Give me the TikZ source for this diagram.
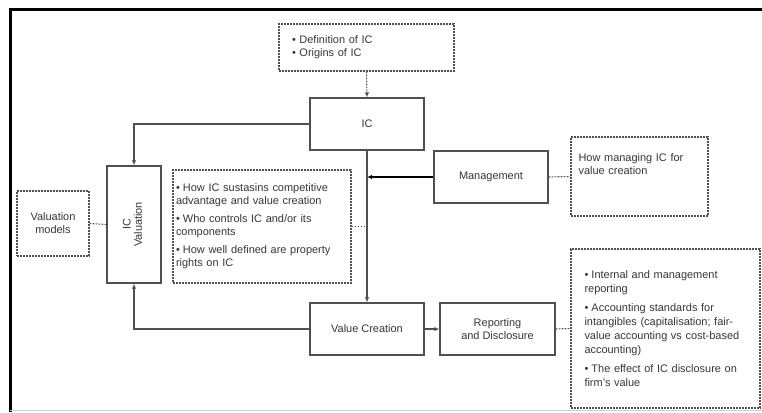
\documentclass[tikz,border=0pt]{standalone}
\usepackage{fontspec}
\usepackage{graphicx}
\setmainfont{Liberation Sans}
\usetikzlibrary{arrows.meta,calc}
\definecolor{ln}{RGB}{80,80,80}
\definecolor{tx}{RGB}{55,55,55}
\newcommand\bitem[1]{\noindent\hangindent=7bp\hangafter=1\makebox[7bp][l]{\textbullet}#1\par}
\begin{document}
\begin{tikzpicture}[x=1bp,y=-1bp,
  font=\fontsize{11}{13}\selectfont, text=tx,
  box/.style={draw=ln, line width=1.4bp, fill=white, inner sep=0pt},
  note/.style={draw=ln, line width=1.3bp, dash pattern=on 1.6bp off 1.4bp, inner sep=0pt},
  conn/.style={draw=ln, line width=1.1bp, -{Latex[length=5bp,width=4.5bp]}},
  dconn/.style={draw=ln, line width=1.1bp, dash pattern=on 1.6bp off 1.4bp},
  txt/.style={align=left, inner sep=0pt}]
\fill[white] (0,0) rectangle (762,412);
\useasboundingbox (0,0) rectangle (762,412);
\draw[black, line width=3bp] (10,412) -- (10,9) -- (762,9);
\draw[gray!35, line width=1bp] (10,410) -- (762,410);

% main boxes
\node[box, minimum width=114bp, minimum height=52bp] (ic) at (367,124) {IC};
\node[box, minimum width=114bp, minimum height=52bp] (mgmt) at (491,177) {Management};
\node[box, minimum width=114bp, minimum height=52bp] (vc) at (367,329) {Value Creation};
\node[box, minimum width=115bp, minimum height=52bp, align=center] (rd) at (497.5,329) {Reporting\\and Disclosure};
\node[box, minimum width=54bp, minimum height=117bp] (ival) at (134,224.5)
  {\rotatebox{90}{\renewcommand\arraystretch{0.85}\begin{tabular}{@{}c@{}}IC\\Valuation\end{tabular}}};

% notes
\node[note, minimum width=175bp, minimum height=47bp, text width=149bp, inner xsep=13bp, align=left] (def) at (366.5,47.5)
  {\textbullet\ Definition of IC\\\textbullet\ Origins of IC};
\node[note, minimum width=72bp, minimum height=65bp, align=center] (vm) at (53,223.5) {Valuation\\models};
\node[note, minimum width=178bp, minimum height=113bp, text width=172bp, inner xsep=3bp, align=left] (mid) at (262,226.5)
  {\setlength\parskip{5bp}%
   \bitem{How IC sustasins competitive\\advantage and value creation}
   \bitem{Who controls IC and/or its\\components}
   \bitem{How well defined are property\\rights on IC}};
\node[note, minimum width=137bp, minimum height=79bp] (mnote) at (639.5,176.5) {};
\node[txt, anchor=north west, text width=125bp] (mnotetext) at ($(mnote.north west)+(8,17)$)
  {How managing IC for\\value creation};
\node[note, minimum width=189bp, minimum height=159bp, text width=162bp, inner xsep=13.5bp, align=left,
  font=\fontsize{11}{13.8}\selectfont] (rnote) at (665.5,328.5)
  {\setlength\parskip{6bp}%
   \bitem{Internal and management\\reporting}
   \bitem{Accounting standards for\\intangibles (capitalisation; fair-\\value accounting vs cost-based\\accounting)}
   \bitem{The effect of IC disclosure on\\firm’s value}};

% connectors
\draw[dconn, -{Latex[length=5bp,width=4.5bp]}] (def.south) -- (ic.north);
\draw[conn] (ic.west) -| (ival.north);
\draw[conn] (ic.south) -- (vc.north);
\draw[conn, draw=black, line width=1.4bp] (mgmt.west) -- (ic.south |- mgmt.west);
\draw[dconn] (mgmt.east) -- (mnote.west);
\draw[conn] (vc.east) -- (rd.west);
\draw[dconn] (rd.east) -- (rnote.west);
\draw[conn] (vc.west) -| (ival.south);
\draw[dconn] (vm.east) -- (ival.west);
\draw[dconn] (mid.east) -- (ic.south |- mid.east);
\end{tikzpicture}
\end{document}
